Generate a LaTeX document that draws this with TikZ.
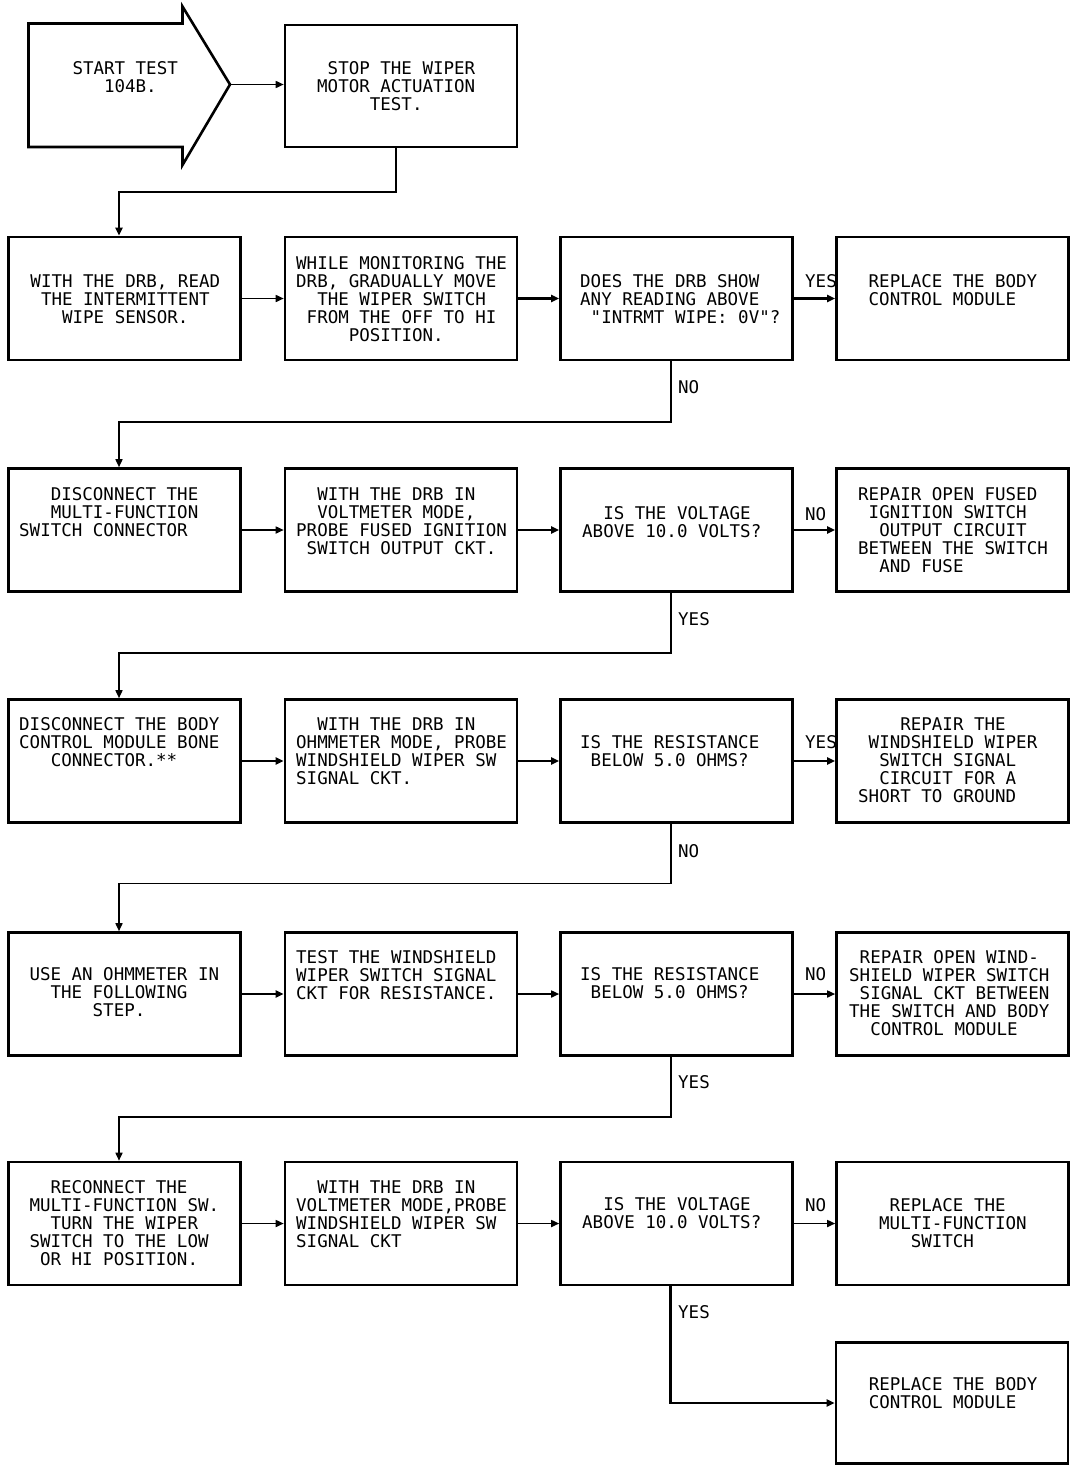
\documentclass[tikz,border=0pt]{standalone}
\usepackage{fontspec}
\newfontfamily\dfont{DejaVu Sans Mono}
\usetikzlibrary{arrows.meta}
\newlength\cw \setlength\cw{10.535pt}
\newcommand\ind[1]{\hspace*{#1\cw}}
\newcommand\stx{\vrule height 13pt depth 0pt width 0pt}
\begin{document}
\begin{tikzpicture}[x=1pt,y=-1pt,
 box/.style={draw, line width=2.6pt, inner sep=0pt, minimum width=232pt, minimum height=123pt},
 txt/.style={anchor=north west, inner sep=0pt, align=left, font=\dfont\fontsize{17.5pt}{18pt}\selectfont},
 lab/.style={anchor=base west, inner sep=0pt, font=\dfont\fontsize{17.5pt}{18pt}\selectfont},
 thk/.style={line width=2.8pt, -{Triangle[length=8pt,width=7pt]}},
 thn/.style={line width=1.6pt, -{Triangle[length=8pt,width=7pt]}},
]
\useasboundingbox[fill=white] (0,0) rectangle (1088,1470);

% start arrow
\draw[line width=2.6pt] (28.5,23.5) -- (182.5,23.5) -- (182.5,6.5) -- (230,84.5) -- (182.5,165) -- (182.5,147) -- (28.5,147) -- cycle;
\coordinate (tip) at (230,84.5);
\node[txt] (startt) at (72.3,61) {\stx START TEST\\\ind{3}104B.};

% boxes
\node[box, minimum height=122pt] (stop) at (401,86) {};
\node[box] (a1) at (124.5,298.5) {};
\node[box] (b1) at (401,298.5) {};
\node[box] (c1) at (676.5,298.5) {};
\node[box] (d1) at (952.5,298.5) {};
\node[box] (a2) at (124.5,530) {};
\node[box] (b2) at (401,530) {};
\node[box] (c2) at (676.5,530) {};
\node[box] (d2) at (952.5,530) {};
\node[box] (a3) at (124.5,761) {};
\node[box] (b3) at (401,761) {};
\node[box] (c3) at (676.5,761) {};
\node[box] (d3) at (952.5,761) {};
\node[box] (a4) at (124.5,994) {};
\node[box] (b4) at (401,994) {};
\node[box] (c4) at (676.5,994) {};
\node[box] (d4) at (952.5,994) {};
\node[box] (a5) at (124.5,1223.5) {};
\node[box] (b5) at (401,1223.5) {};
\node[box] (c5) at (676.5,1223.5) {};
\node[box] (d5) at (952.5,1223.5) {};
\node[box, minimum height=121pt] (fin) at (952,1403) {};

% texts
\node[txt] (stopt) at (317,61) {\stx\ind{1}STOP THE WIPER\\MOTOR ACTUATION\\\ind{5}TEST.};

\node[txt] (a1t) at (30.3,274) {\stx WITH THE DRB, READ\\\ind{1}THE INTERMITTENT\\\ind{3}WIPE SENSOR.};
\node[txt] (b1t) at (296,256) {\stx WHILE MONITORING THE\\DRB, GRADUALLY MOVE\\\ind{2}THE WIPER SWITCH\\\ind{1}FROM THE OFF TO HI\\\ind{5}POSITION.};
\node[txt] (c1t) at (580,274) {\stx DOES THE DRB SHOW\\ANY READING ABOVE\\\ind{1}"INTRMT WIPE: 0V"?};
\node[txt] (d1t) at (868.5,274) {\stx REPLACE THE BODY\\CONTROL MODULE};

\node[txt] (a2t) at (19,487) {\stx\ind{3}DISCONNECT THE\\\ind{3}MULTI-FUNCTION\\SWITCH CONNECTOR};
\node[txt] (b2t) at (296,487) {\stx\ind{2}WITH THE DRB IN\\\ind{2}VOLTMETER MODE,\\PROBE FUSED IGNITION\\\ind{1}SWITCH OUTPUT CKT.};
\node[txt] (c2t) at (582,506) {\stx\ind{2}IS THE VOLTAGE\\ABOVE 10.0 VOLTS?};
\node[txt] (d2t) at (858,487) {\stx REPAIR OPEN FUSED\\\ind{1}IGNITION SWITCH\\\ind{2}OUTPUT CIRCUIT\\BETWEEN THE SWITCH\\\ind{2}AND FUSE};

\node[txt] (a3t) at (19,717) {\stx DISCONNECT THE BODY\\CONTROL MODULE BONE\\\ind{3}CONNECTOR.**};
\node[txt] (b3t) at (296,717) {\stx\ind{2}WITH THE DRB IN\\OHMMETER MODE, PROBE\\WINDSHIELD WIPER SW\\SIGNAL CKT.};
\node[txt] (c3t) at (580,735) {\stx IS THE RESISTANCE\\\ind{1}BELOW 5.0 OHMS?};
\node[txt] (d3t) at (858,717) {\stx\ind{4}REPAIR THE\\\ind{1}WINDSHIELD WIPER\\\ind{2}SWITCH SIGNAL\\\ind{2}CIRCUIT FOR A\\SHORT TO GROUND};

\node[txt] (a4t) at (29.3,967) {\stx USE AN OHMMETER IN\\\ind{2}THE FOLLOWING\\\ind{6}STEP.};
\node[txt] (b4t) at (296,950) {\stx TEST THE WINDSHIELD\\WIPER SWITCH SIGNAL\\CKT FOR RESISTANCE.};
\node[txt] (c4t) at (580,967) {\stx IS THE RESISTANCE\\\ind{1}BELOW 5.0 OHMS?};
\node[txt] (d4t) at (849,950) {\stx\ind{1}REPAIR OPEN WIND-\\SHIELD WIPER SWITCH\\\ind{1}SIGNAL CKT BETWEEN\\THE SWITCH AND BODY\\\ind{2}CONTROL MODULE};

\node[txt] (a5t) at (29.3,1180) {\stx\ind{2}RECONNECT THE\\MULTI-FUNCTION SW.\\\ind{2}TURN THE WIPER\\SWITCH TO THE LOW\\\ind{1}OR HI POSITION.};
\node[txt] (b5t) at (296,1180) {\stx\ind{2}WITH THE DRB IN\\VOLTMETER MODE,PROBE\\WINDSHIELD WIPER SW\\SIGNAL CKT};
\node[txt] (c5t) at (582,1197) {\stx\ind{2}IS THE VOLTAGE\\ABOVE 10.0 VOLTS?};
\node[txt] (d5t) at (879,1198) {\stx\ind{1}REPLACE THE\\MULTI-FUNCTION\\\ind{3}SWITCH};
\node[txt] (fint) at (868.6,1377) {\stx REPLACE THE BODY\\CONTROL MODULE};

% connectors
\draw[thn] (tip) -- (tip -| stop.west);
\coordinate (j0) at (119,192);
\draw[thk] ([xshift=-5pt]stop.south) |- (j0) -- ([xshift=-5.5pt]a1.north);

\draw[thn] (a1) -- (b1);
\draw[thk] (b1) -- (c1);
\draw[thk] (c1) -- (d1);
\coordinate (j1) at (119,421.7);
\draw[thn] ([xshift=-5.5pt]c1.south) |- (j1) -- ([xshift=-5.5pt]a2.north);

\draw[thn] (a2) -- (b2);
\draw[thk] (b2) -- (c2);
\draw[thk] (c2) -- (d2);
\coordinate (j2) at (119,653);
\draw[thn] ([xshift=-5.5pt]c2.south) |- (j2) -- ([xshift=-5.5pt]a3.north);

\draw[thk] (a3) -- (b3);
\draw[thk] (b3) -- (c3);
\draw[thk] (c3) -- (d3);
\coordinate (j3) at (119,883.5);
\draw[thn] ([xshift=-5.5pt]c3.south) |- (j3) -- ([xshift=-5.5pt]a4.north);

\draw[thk] (a4) -- (b4);
\draw[thn] (b4) -- (c4);
\draw[thn] (c4) -- (d4);
\coordinate (j4) at (119,1117);
\draw[thn] ([xshift=-5.5pt]c4.south) |- (j4) -- ([xshift=-5.5pt]a5.north);

\draw[thn] (a5) -- (b5);
\draw[thn] (b5) -- (c5);
\draw[thn] (c5) -- (d5);
\draw[thk] ([xshift=-6pt]c5.south) |- (fin.west);

% labels
\node[lab] (l1h) at (805,287) {YES};
\node[lab] (l1v) at (678,393) {NO};
\node[lab] (l2h) at (805,520) {NO};
\node[lab] (l2v) at (678,625) {YES};
\node[lab] (l3h) at (805,748) {YES};
\node[lab] (l3v) at (678,857) {NO};
\node[lab] (l4h) at (805,980) {NO};
\node[lab] (l4v) at (678,1088) {YES};
\node[lab] (l5h) at (805,1211) {NO};
\node[lab] (l5v) at (678,1318) {YES};
\end{tikzpicture}
\end{document}
